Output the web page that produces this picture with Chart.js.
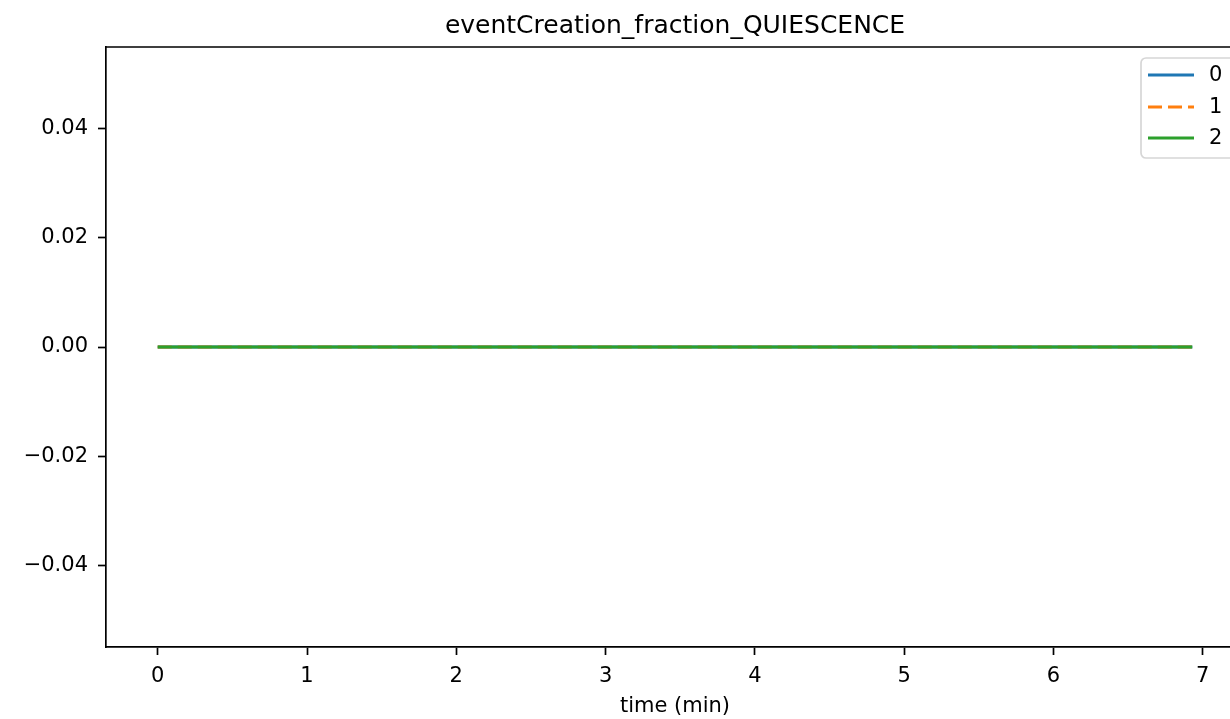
<!DOCTYPE html>
<html>
<head>
<meta charset="utf-8">
<script src="https://cdn.jsdelivr.net/npm/chart.js@4.4.1/dist/chart.umd.min.js"></script>
<style>
  html, body { margin: 0; padding: 0; background: #fff; overflow: hidden; }
  #wrap { width: 1230px; height: 719px; overflow: hidden; }
</style>
</head>
<body>
<div id="wrap"><canvas id="chart" width="1262" height="719"></canvas></div>
<script>
// data
const chartTitle = "eventCreation_fraction_QUIESCENCE";
const xLabel = "time (min)";
const seriesNames = ["0", "1", "2"];
const timeMin = [0, 1, 2, 3, 4, 5, 6, 6.93];
const series0 = [0, 0, 0, 0, 0, 0, 0, 0];
const series1 = [0, 0, 0, 0, 0, 0, 0, 0];
const series2 = [0, 0, 0, 0, 0, 0, 0, 0];
const xTicks = [0, 1, 2, 3, 4, 5, 6, 7];
const yTicks = [-0.04, -0.02, 0, 0.02, 0.04];

const colors = ["#1f77b4", "#ff7f0e", "#2ca02c"];
const dashes = [[], [14, 6], []];
const FONT = "'DejaVu Sans', sans-serif";

const allSeries = [series0, series1, series2];
const datasets = allSeries.map((s, i) => ({
    label: seriesNames[i],
    data: timeMin.map((t, k) => ({ x: t, y: s[k] })),
    borderColor: colors[i],
    borderDash: dashes[i],
    borderWidth: 3.2,
    pointRadius: 0,
    tension: 0,
    fill: false,
    order: 2 - i
}));

// title, top/right spine, legend - drawn matplotlib style
const extras = {
    id: "extras",
    afterDraw(chart) {
        const ctx = chart.ctx;
        const a = chart.chartArea;
        ctx.save();
        ctx.strokeStyle = "#000";
        ctx.lineWidth = 1.7;
        ctx.beginPath();
        ctx.moveTo(a.left, a.top);
        ctx.lineTo(a.right, a.top);
        ctx.lineTo(a.right, a.bottom);
        ctx.stroke();

        ctx.fillStyle = "#000";
        ctx.textAlign = "center";
        ctx.textBaseline = "middle";
        ctx.font = "25px " + FONT;
        ctx.fillText(chartTitle, (a.left + a.right) / 2, 26);
        ctx.font = "21px " + FONT;
        ctx.fillText(xLabel, (a.left + a.right) / 2, 707);

        // legend box
        const bx = 1141, by = 58, bw = 104, bh = 100, r = 5;
        ctx.beginPath();
        ctx.roundRect(bx, by, bw, bh, r);
        ctx.fillStyle = "rgba(255,255,255,0.8)";
        ctx.fill();
        ctx.strokeStyle = "#d6d6d6";
        ctx.lineWidth = 1.7;
        ctx.stroke();

        const rows = [75, 107, 138];
        seriesNames.forEach((name, i) => {
            ctx.beginPath();
            ctx.strokeStyle = colors[i];
            ctx.lineWidth = 3.2;
            ctx.setLineDash(dashes[i]);
            ctx.moveTo(1148, rows[i]);
            ctx.lineTo(1194, rows[i]);
            ctx.stroke();
            ctx.setLineDash([]);
            ctx.fillStyle = "#000";
            ctx.textAlign = "left";
            ctx.textBaseline = "middle";
            ctx.font = "21px " + FONT;
            ctx.fillText(name, 1209, rows[i] + 1);
        });
        ctx.restore();
    }
};

new Chart(document.getElementById("chart"), {
    type: "line",
    data: { datasets },
    plugins: [extras],
    options: {
        responsive: false,
        animation: false,
        layout: { padding: { left: 0, right: 18, top: 47, bottom: 0 } },
        plugins: { legend: { display: false }, tooltip: { enabled: false }, title: { display: false } },
        scales: {
            x: {
                type: "linear",
                min: -0.3465,
                max: 7.2765,
                afterFit: s => { s.height = 72; },
                afterBuildTicks: s => { s.ticks = xTicks.map(v => ({ value: v })); },
                grid: { drawOnChartArea: false, tickLength: 8, tickWidth: 1.7, tickColor: "#000" },
                border: { color: "#000", width: 1.7 },
                ticks: {
                    color: "#000",
                    font: { family: FONT, size: 21 },
                    padding: 9,
                    maxRotation: 0,
                    autoSkip: false,
                    callback: v => String(v)
                }
            },
            y: {
                type: "linear",
                min: -0.055,
                max: 0.055,
                afterFit: s => { s.width = 106; },
                afterBuildTicks: s => { s.ticks = yTicks.map(v => ({ value: v })); },
                grid: { drawOnChartArea: false, tickLength: 8, tickWidth: 1.7, tickColor: "#000" },
                border: { color: "#000", width: 1.7 },
                ticks: {
                    color: "#000",
                    font: { family: FONT, size: 21 },
                    padding: 10,
                    autoSkip: false,
                    callback: v => v.toFixed(2).replace("-", "\u2212")
                }
            }
        }
    }
});
</script>
</body>
</html>
